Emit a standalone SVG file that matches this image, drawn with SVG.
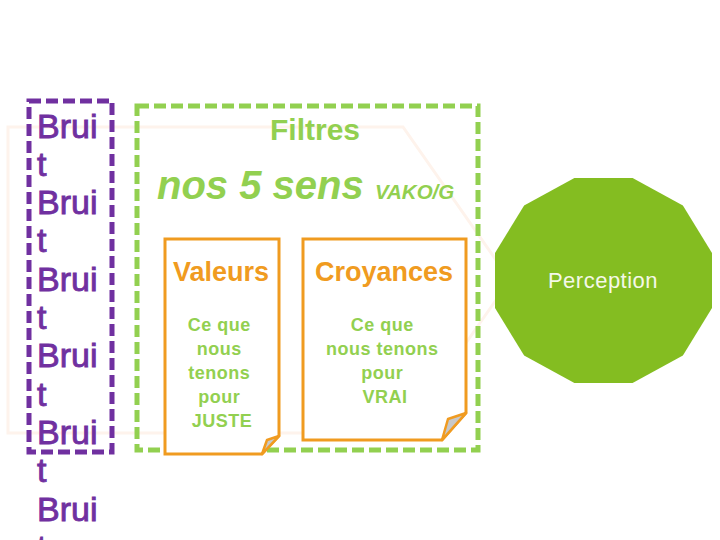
<svg xmlns="http://www.w3.org/2000/svg" width="720" height="540" viewBox="0 0 720 540">
<style>
.bruit{font-family:"Liberation Sans",Arial,sans-serif;font-size:34px;fill:#7030a0;stroke:#7030a0;stroke-width:0.9px}
.green{font-family:"Liberation Sans",Arial,sans-serif;font-weight:bold;fill:#92d050}
.head{font-family:"Liberation Sans",Arial,sans-serif;font-size:27px;font-weight:bold;fill:#f09b20;text-anchor:middle}
.body{font-family:"Liberation Sans",Arial,sans-serif;font-size:18px;font-weight:bold;fill:#92d050;text-anchor:middle;letter-spacing:0.5px}
.doc{fill:#ffffff;stroke:#f09b20;stroke-width:3;stroke-linejoin:miter}
.flap{fill:#c8c8c8;stroke:#f09b20;stroke-width:2.5;stroke-linejoin:round}
</style>
<rect width="720" height="540" fill="#ffffff"/>
<polygon points="8,127 403,127 510,280 403,433 8,433" fill="none" stroke="#fef3ec" stroke-width="3"/>

<g id="bruit">
<rect x="29" y="101" width="83" height="351" fill="none" stroke="#7030a0" stroke-width="5" stroke-dasharray="12 5"/>
<text class="bruit" x="37">
<tspan x="37" y="137.5">Brui</tspan>
<tspan x="37" y="175.8">t</tspan>
<tspan x="37" y="214">Brui</tspan>
<tspan x="37" y="252.4">t</tspan>
<tspan x="37" y="290.7">Brui</tspan>
<tspan x="37" y="329">t</tspan>
<tspan x="37" y="367.3">Brui</tspan>
<tspan x="37" y="405.6">t</tspan>
<tspan x="37" y="443.9">Brui</tspan>
<tspan x="37" y="482.2">t</tspan>
<tspan x="37" y="520.5">Brui</tspan>
<tspan x="37" y="558.8">t</tspan>
</text>
</g>

<g id="filtres">
<rect x="137" y="106" width="341" height="344" fill="none" stroke="#92d050" stroke-width="5" stroke-dasharray="12 5"/>
<text class="green" x="315" y="140" font-size="30" text-anchor="middle">Filtres</text>
<text class="green" x="157" y="199" font-size="40" font-style="italic">nos 5 sens <tspan font-size="20.5">VAKO/G</tspan></text>
</g>

<g id="valeurs">
<path class="doc" d="M165,239 H279 V436 L262,454 H165 Z"/>
<path class="flap" d="M279,436 L267,440 L262,454 Z"/>
<text class="head" x="221" y="281">Valeurs</text>
<text class="body">
<tspan x="222" y="331">Ce que</tspan>
<tspan x="222" y="355">nous</tspan>
<tspan x="222" y="379">tenons</tspan>
<tspan x="222" y="403">pour</tspan>
<tspan x="222" y="427">JUSTE</tspan>
</text>
</g>

<g id="croyances">
<path class="doc" d="M303,239 H466 V413 L442,440 H303 Z"/>
<path class="flap" d="M466,413 L448,419 L442,440 Z"/>
<text class="head" x="384" y="281">Croyances</text>
<text class="body">
<tspan x="385" y="331">Ce que</tspan>
<tspan x="385" y="355">nous tenons</tspan>
<tspan x="385" y="379">pour</tspan>
<tspan x="385" y="403">VRAI</tspan>
</text>
</g>

<g id="perception">
<polygon points="712,308 682.9,355.5 632.6,383 574.4,383 524.1,355.5 495,308 495,253 524.1,205.5 574.4,178 632.6,178 682.9,205.5 712,253" fill="#84bd21"/>
<text x="603" y="288" font-family="'Liberation Sans',Arial,sans-serif" font-size="22" fill="#f4f8e8" text-anchor="middle" letter-spacing="0.5">Perception</text>
</g>

<g id="connectors"></g>
</svg>
